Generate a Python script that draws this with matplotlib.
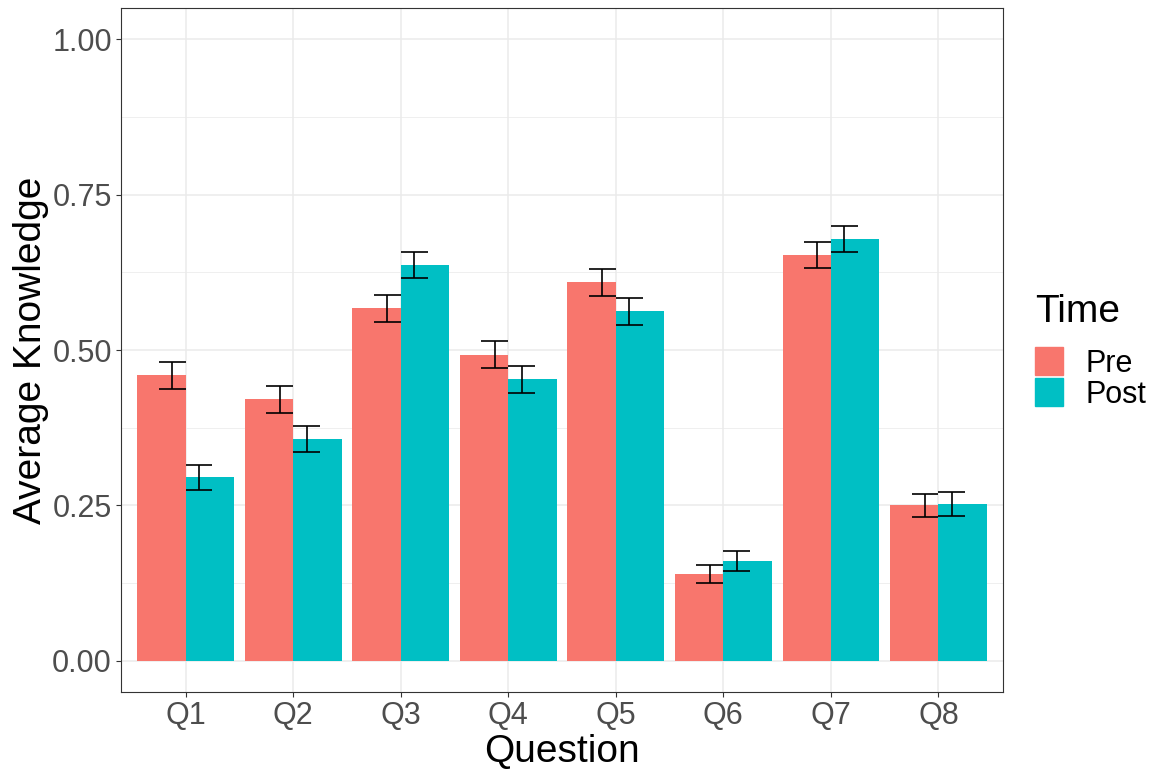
import numpy as np
import matplotlib
matplotlib.use("Agg")
import matplotlib.pyplot as plt
from matplotlib.patches import Rectangle
from matplotlib.ticker import MultipleLocator

plt.rcParams['font.family'] = ['Liberation Sans', 'DejaVu Sans']

# average knowledge per question, before and after
questions = ['Q1', 'Q2', 'Q3', 'Q4', 'Q5', 'Q6', 'Q7', 'Q8']
pre_mean = [0.459, 0.421, 0.567, 0.492, 0.609, 0.140, 0.653, 0.250]
post_mean = [0.295, 0.357, 0.636, 0.453, 0.562, 0.161, 0.679, 0.253]
pre_se = [0.022, 0.0217, 0.0217, 0.0217, 0.0214, 0.015, 0.021, 0.019]
post_se = [0.0198, 0.021, 0.021, 0.022, 0.0214, 0.016, 0.021, 0.0193]
groups = ['Pre', 'Post']
colors = ['#F8766D', '#00BFC4']

W, H = 1158, 770
fig = plt.figure(figsize=(W / 100, H / 100), dpi=100)
ax = fig.add_axes([121 / W, 1 - 692 / H, 882 / W, 684 / H])

x = np.arange(1, len(questions) + 1)
bw = 0.45
ax.bar(x - bw / 2, pre_mean, width=bw, color=colors[0], zorder=2)
ax.bar(x + bw / 2, post_mean, width=bw, color=colors[1], zorder=2)

# error bars dodged by 0.25 like ggplot's position_dodge(0.25)
for shift, m, se in [(-0.125, pre_mean, pre_se), (0.125, post_mean, post_se)]:
    m = np.array(m)
    se = np.array(se)
    ex = x + shift
    ax.vlines(ex, m - se, m + se, color='black', lw=1.2, zorder=3)
    ax.hlines(m - se, ex - 0.125, ex + 0.125, color='black', lw=1.2, zorder=3)
    ax.hlines(m + se, ex - 0.125, ex + 0.125, color='black', lw=1.2, zorder=3)

ax.set_xlim(0.4, 8.6)
ax.set_ylim(-0.05, 1.05)
ax.set_xticks(x)
ax.set_xticklabels(questions)
ax.yaxis.set_minor_locator(MultipleLocator(0.125))
ax.set_yticks([0, 0.25, 0.5, 0.75, 1.0])
ax.set_yticklabels(['0.00', '0.25', '0.50', '0.75', '1.00'])

ax.grid(True, which='major', color='#EBEBEB', lw=1.1, zorder=0)
ax.grid(True, which='minor', axis='y', color='#EBEBEB', lw=0.55, zorder=0)
ax.set_axisbelow(True)

for s in ax.spines.values():
    s.set_color('#333333')
    s.set_linewidth(0.8)
ax.tick_params(which='major', length=3.5, width=0.8, color='#333333',
               labelsize=22, labelcolor='#4D4D4D', pad=3)
ax.tick_params(which='minor', length=0)

ax.set_xlabel('Question', fontsize=28, labelpad=2)
ax.set_ylabel('Average Knowledge', fontsize=28, labelpad=2)

# legend: title plus two colour keys, placed in figure pixels
fig.text(1035 / W, 1 - 322 / H, 'Time', fontsize=28, ha='left', va='baseline')
key_top = 347
for i, (g, c) in enumerate(zip(groups, colors)):
    top = key_top + i * 31
    fig.add_artist(Rectangle((1035 / W, 1 - (top + 28) / H), 28 / W, 28 / H,
                             transform=fig.transFigure, color=c))
    fig.text(1086 / W, 1 - (top + 14) / H, g, fontsize=22, ha='left',
             va='center_baseline')

fig.savefig('out.png', dpi=100)
